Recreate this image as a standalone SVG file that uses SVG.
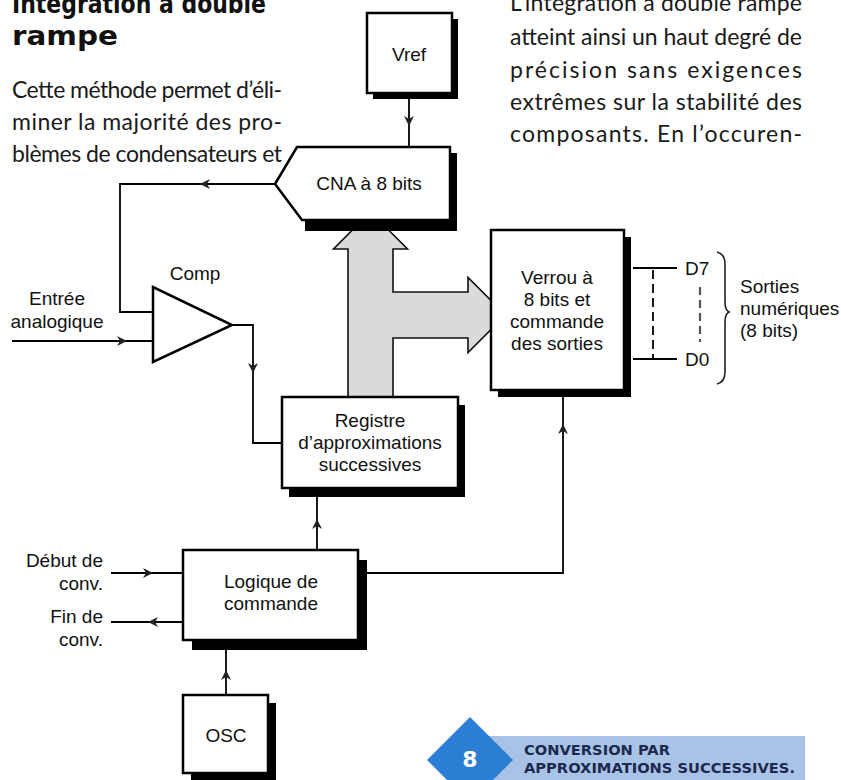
<svg xmlns="http://www.w3.org/2000/svg" width="841" height="780" viewBox="0 0 841 780">
<style>
.box{fill:#fff;stroke:#000;stroke-width:2.5}
.sh{fill:#000}
.ln{fill:none;stroke:#000;stroke-width:1.8}
.lbl{font-family:"Liberation Sans",Arial,sans-serif;font-size:19px;fill:#111;text-anchor:middle}
.lft{text-anchor:start}
.rgt{text-anchor:end}
.body{font-family:Lato,"Open Sans",sans-serif;font-weight:400;font-size:23px;fill:#1a1a1a}
.head{font-family:"DejaVu Sans",sans-serif;font-weight:bold;font-size:26px;fill:#111}
.cap{font-family:"DejaVu Sans",sans-serif;font-weight:bold;font-size:14.5px;fill:#1b2a4e}
</style>
<defs>
<path id="ah" d="M0,0 L-10,-5 L-7,0 L-10,5 Z" fill="#222"/>
</defs>
<rect width="841" height="780" fill="#fff"/>

<g id="text-left">
<text class="head" x="12" y="13" textLength="254" lengthAdjust="spacingAndGlyphs">Intégration à double</text>
<text class="head" x="12" y="45" textLength="106" lengthAdjust="spacingAndGlyphs">rampe</text>
<text class="body" x="12" y="98" textLength="270" lengthAdjust="spacing">Cette méthode permet d’éli-</text>
<text class="body" x="12" y="130" textLength="270" lengthAdjust="spacing">miner la majorité des pro-</text>
<text class="body" x="12" y="162" textLength="270" lengthAdjust="spacing">blèmes de condensateurs et</text>
</g>
<g id="text-right">
<text class="body" x="510" y="11" textLength="292" lengthAdjust="spacing">L’intégration à double rampe</text>
<text class="body" x="510" y="45" textLength="292" lengthAdjust="spacing">atteint ainsi un haut degré de</text>
<text class="body" x="510" y="78" textLength="292" lengthAdjust="spacing">précision sans exigences</text>
<text class="body" x="510" y="110" textLength="292" lengthAdjust="spacing">extrêmes sur la stabilité des</text>
<text class="body" x="510" y="142" textLength="292" lengthAdjust="spacing">composants. En l’occuren-</text>
</g>

<g id="connectors">
<path id="bus" d="M370.5,212 L407.5,249 L393,249 L393,292 L468,292 L468,277.5 L505.5,315 L468,352.5 L468,338 L393,338 L393,400 L348,400 L348,249 L333.5,249 Z" fill="#dadada" stroke="#111" stroke-width="1.6"/>
<path class="ln" d="M409,99 V147"/>
<use href="#ah" transform="translate(409,126) rotate(90)"/>
<path class="ln" d="M275,184 H120 V312 H153"/>
<use href="#ah" transform="translate(200,184) rotate(180)"/>
<path class="ln" d="M12,341 H153"/>
<use href="#ah" transform="translate(127,341)"/>
<path class="ln" d="M232,325 H253 V443 H282"/>
<use href="#ah" transform="translate(253,373) rotate(90)"/>
<path class="ln" d="M317,550 V497"/>
<use href="#ah" transform="translate(317,519) rotate(-90)"/>
<path class="ln" d="M367,573 H563 V397"/>
<use href="#ah" transform="translate(563,424) rotate(-90)"/>
<path class="ln" d="M111,573 H183"/>
<use href="#ah" transform="translate(153,573)"/>
<path class="ln" d="M183,622 H111"/>
<use href="#ah" transform="translate(148,622) rotate(180)"/>
<path class="ln" d="M226,695 V650"/>
<use href="#ah" transform="translate(226,670) rotate(-90)"/>
<path class="ln" d="M633,268 H677 M633,359 H677"/>
<path class="ln" d="M653,270 V358" stroke-dasharray="9,5"/>
<path d="M700,287 V342" fill="none" stroke="#555" stroke-width="2.2" stroke-dasharray="8,5"/>
<path d="M717,252 Q725,254 725,264 V302 Q725,310 729,312 Q725,314 725,322 V372 Q725,382 717,384" fill="none" stroke="#222" stroke-width="1.6"/>
</g>

<g id="vref">
<rect class="sh" x="373" y="19" width="85" height="80"/>
<rect class="box" x="367" y="13" width="85" height="80"/>
<text class="lbl" x="409" y="61">Vref</text>
</g>
<g id="cna">
<rect class="sh" x="305" y="153" width="152" height="78"/>
<polygon class="box" points="297,147 450,147 450,220 302,220 275,184"/>
<text class="lbl" x="369" y="190">CNA à 8 bits</text>
</g>
<g id="comp">
<polygon class="box" points="153,287 153,362 232,325" stroke-width="2"/>
<text class="lbl" x="195" y="280">Comp</text>
</g>
<g id="entree">
<text class="lbl" x="57" y="305">Entrée</text>
<text class="lbl" x="57" y="328">analogique</text>
</g>
<g id="registre">
<rect class="sh" x="289" y="405" width="176" height="92"/>
<rect class="box" x="282" y="397" width="176" height="91"/>
<text class="lbl" x="370" y="427">Registre</text>
<text class="lbl" x="370" y="449">d’approximations</text>
<text class="lbl" x="370" y="471">successives</text>
</g>
<g id="verrou">
<rect class="sh" x="498" y="237" width="133" height="160"/>
<rect class="box" x="491" y="230" width="133" height="160"/>
<text class="lbl" x="557" y="284">Verrou à</text>
<text class="lbl" x="557" y="306">8 bits et</text>
<text class="lbl" x="557" y="328">commande</text>
<text class="lbl" x="557" y="350">des sorties</text>
</g>
<g id="sorties">
<text class="lbl lft" x="685" y="275">D7</text>
<text class="lbl lft" x="685" y="366">D0</text>
<text class="lbl lft" x="740" y="293">Sorties</text>
<text class="lbl lft" x="740" y="315">numériques</text>
<text class="lbl lft" x="740" y="337">(8 bits)</text>
</g>
<g id="logique">
<rect class="sh" x="192" y="560" width="175" height="90"/>
<rect class="box" x="183" y="550" width="175" height="90"/>
<text class="lbl" x="271" y="588">Logique de</text>
<text class="lbl" x="271" y="610">commande</text>
</g>
<g id="debut">
<text class="lbl rgt" x="103" y="567">Début de</text>
<text class="lbl rgt" x="103" y="590">conv.</text>
</g>
<g id="fin">
<text class="lbl rgt" x="103" y="623">Fin de</text>
<text class="lbl rgt" x="103" y="646">conv.</text>
</g>
<g id="osc">
<rect class="sh" x="191" y="703" width="85" height="78"/>
<rect class="box" x="183" y="695" width="85" height="78"/>
<text class="lbl" x="226" y="742">OSC</text>
</g>
<g id="badge">
<rect x="470" y="736" width="335" height="44" fill="#a9c3e6"/>
<polygon points="470,717 513,760 470,803 427,760" fill="#2a7ed3"/>
<text x="470" y="767" font-family="DejaVu Sans,sans-serif" font-weight="bold" font-size="22" fill="#fff" text-anchor="middle">8</text>
<text class="cap" x="524" y="755" textLength="146" lengthAdjust="spacingAndGlyphs">CONVERSION PAR</text>
<text class="cap" x="524" y="773" textLength="271" lengthAdjust="spacingAndGlyphs">APPROXIMATIONS SUCCESSIVES.</text>
</g>
</svg>
